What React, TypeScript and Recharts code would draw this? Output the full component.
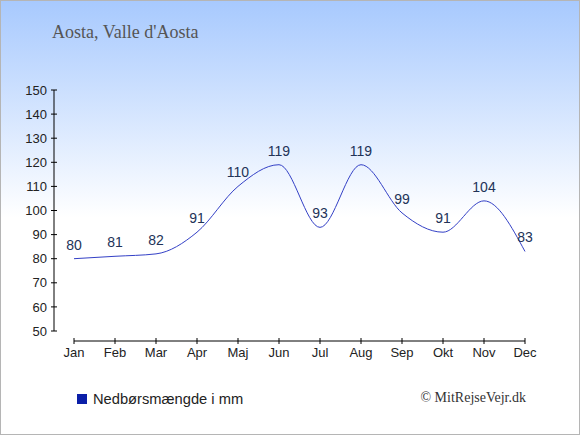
import React from "react";
import { LineChart, Line, XAxis, YAxis, LabelList } from "recharts";

const months = ["Jan", "Feb", "Mar", "Apr", "Maj", "Jun", "Jul", "Aug", "Sep", "Okt", "Nov", "Dec"];
const precipitation = [80, 81, 82, 91, 110, 119, 93, 119, 99, 91, 104, 83];
const yTicks = [50, 60, 70, 80, 90, 100, 110, 120, 130, 140, 150];
const title = "Aosta, Valle d'Aosta";
const seriesName = "Nedbørsmængde i mm";
const credit = "© MitRejseVejr.dk";

const data = months.map((m, i) => ({ month: m, value: precipitation[i] }));

const SANS = "'Liberation Sans', Arial, sans-serif";
const SERIF = "'Liberation Serif', 'Times New Roman', serif";

const YTick = (props: any) => {
  const { x, y, payload } = props;
  return (
    <g>
      <line x1={x - 23} x2={x - 17} y1={y} y2={y} stroke="#000" strokeWidth={1} />
      <text x={x - 27} y={y} dy="0.36em" textAnchor="end" fontSize={13} fontFamily={SANS} fill="#222">
        {payload.value}
      </text>
    </g>
  );
};

const XTick = (props: any) => {
  const { x, y, payload } = props;
  return (
    <g>
      <line x1={x} x2={x} y1={y + 7} y2={y + 13} stroke="#000" strokeWidth={1} />
      <text x={x} y={y + 26} textAnchor="middle" fontSize={13} fontFamily={SANS} fill="#222">
        {payload.value}
      </text>
    </g>
  );
};

export default function App() {
  return (
    <div
      style={{
        position: "absolute",
        left: 0,
        top: 0,
        width: 580,
        height: 435,
        background: "linear-gradient(to bottom, #a7c9fe 0%, #ffffff 50%, #ffffff 100%)",
      }}
    >
      <div style={{ position: "absolute", left: 0, top: 0 }}>
        <LineChart width={580} height={435} data={data} margin={{ top: 90, right: 55, left: 0, bottom: 0 }}>
          <XAxis
            dataKey="month"
            height={104}
            interval={0}
            tickSize={0}
            tickMargin={0}
            axisLine={{ stroke: "#000", strokeWidth: 1, transform: "translate(0,10)" }}
            tickLine={false}
            tick={<XTick />}
          />
          <YAxis
            width={74}
            domain={[50, 150]}
            ticks={yTicks}
            interval={0}
            tickSize={0}
            tickMargin={0}
            axisLine={{ stroke: "#000", strokeWidth: 1, transform: "translate(-20,0)" }}
            tickLine={false}
            tick={<YTick />}
          />
          <Line
            type="monotone"
            dataKey="value"
            stroke="#3340c6"
            strokeWidth={1}
            dot={false}
            activeDot={false}
            isAnimationActive={false}
          >
            <LabelList
              dataKey="value"
              position="top"
              offset={9}
              fill="#223358"
              fontSize={14}
              fontFamily={SANS}
            />
          </Line>
        </LineChart>
      </div>
      <svg
        width={580}
        height={435}
        style={{ position: "absolute", left: 0, top: 0, pointerEvents: "none" }}
      >
        <text x={52} y={38} fontSize={18} fontFamily={SERIF} fill="#555">
          {title}
        </text>
        <rect x={77} y={394} width={10} height={10} fill="#0b1fa8" />
        <text x={93} y={403.5} fontSize={14.7} fontFamily={SANS} fill="#222">
          {seriesName}
        </text>
        <text x={526} y={402} textAnchor="end" fontSize={14} fontFamily={SERIF} fill="#333">
          {credit}
        </text>
      </svg>
      <div
        style={{
          position: "absolute",
          left: 0,
          top: 0,
          width: 580,
          height: 435,
          boxSizing: "border-box",
          border: "1px solid #b5b5b5",
          pointerEvents: "none",
        }}
      />
    </div>
  );
}
